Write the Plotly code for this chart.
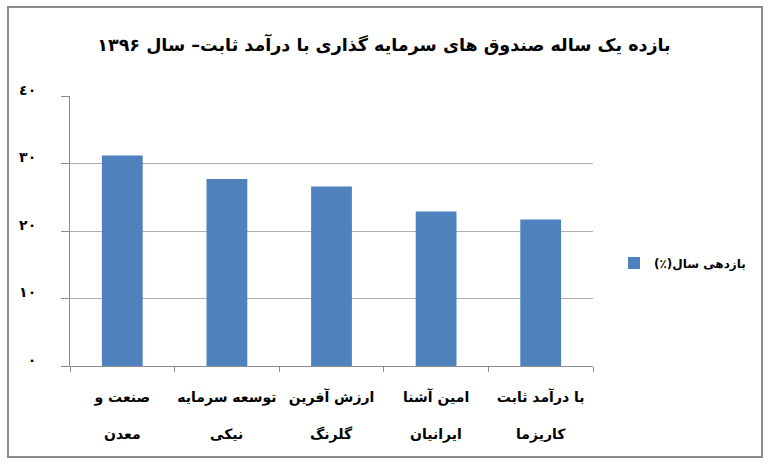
import plotly.graph_objects as go

# Data
categories = ["صنعت و معدن", "توسعه سرمایه نیکی", "ارزش آفرین گلرنگ", "امین آشنا ایرانیان", "با درآمد ثابت کاریزما"]
label_line1 = ["صنعت و", "توسعه سرمایه", "ارزش آفرین", "امین آشنا", "با درآمد ثابت"]
label_line2 = ["معدن", "نیکی", "گلرنگ", "ایرانیان", "کاریزما"]
returns = [31.2, 27.7, 26.6, 22.9, 21.7]
y_tickvals = [0, 10, 20, 30, 40]
y_ticktext = ["٠", "١٠", "٢٠", "٣٠", "٤٠"]
series_name = "بازدهی سال(٪)\u200f"
title_text = "بازده یک ساله صندوق های سرمایه گذاری با درآمد ثابت– سال ۱۳۹۶"

FONT = "DejaVu Sans"
W, H = 768, 466
L, R, T, B = 70, 175, 96, 100
pw, ph = W - L - R, H - T - B

def px_x(x):
    return (x - L) / pw

def px_y(y):
    return (H - B - y) / ph

fig = go.Figure()
fig.add_trace(go.Bar(
    x=categories, y=returns, name=series_name,
    marker=dict(color="#4f81bd", line=dict(width=0)),
    showlegend=True,
))

for c, t in zip(categories, label_line2):
    fig.add_annotation(x=c, xref="x", y=px_y(434), yref="paper", text=t,
                       showarrow=False, yanchor="middle",
                       font=dict(family=FONT, size=14, color="#000", weight="bold"))

fig.add_shape(type="rect", xref="paper", yref="paper",
              x0=px_x(8), x1=px_x(762), y0=px_y(457), y1=px_y(7),
              line=dict(color="#8c8c8c", width=2), fillcolor="rgba(0,0,0,0)", layer="below")

fig.update_layout(
    width=W, height=H,
    margin=dict(l=L, r=R, t=T, b=B, autoexpand=False),
    paper_bgcolor="white", plot_bgcolor="white",
    bargap=0.61,
    title=dict(text=title_text, x=0.5, xref="container", xanchor="center",
               y=1 - 45 / H, yref="container", yanchor="middle",
               font=dict(family=FONT, size=17.5, color="#000", weight="bold")),
    xaxis=dict(
        tickvals=categories, ticktext=label_line1, tickangle=0, automargin=False,
        showline=True, linecolor="#8c8c8c", linewidth=1,
        ticks="outside", ticklen=5, tickcolor="#8c8c8c", tickson="boundaries",
        showgrid=False,
        tickfont=dict(family=FONT, size=14, color="#000", weight="bold"),
        ticklabelstandoff=18,
    ),
    yaxis=dict(
        range=[0, 40], tickvals=y_tickvals, ticktext=y_ticktext, automargin=False,
        showline=True, linecolor="#8c8c8c", linewidth=1,
        ticks="outside", ticklen=8, tickcolor="#8c8c8c",
        showgrid=True, gridcolor="#b0b0b0", gridwidth=1,
        zeroline=False,
        tickfont=dict(family=FONT, size=14, color="#000", weight="bold"),
        ticklabelstandoff=22, ticklabelshift=-6,
    ),
    legend=dict(x=px_x(614), y=px_y(263), xanchor="left", yanchor="middle",
                font=dict(family=FONT, size=12, color="#000", weight="bold"),
                bgcolor="rgba(0,0,0,0)"),
)

fig.write_html("out.html", config={"displayModeBar": False},
               post_script="document.body.style.margin='0';document.body.style.padding='0';")
